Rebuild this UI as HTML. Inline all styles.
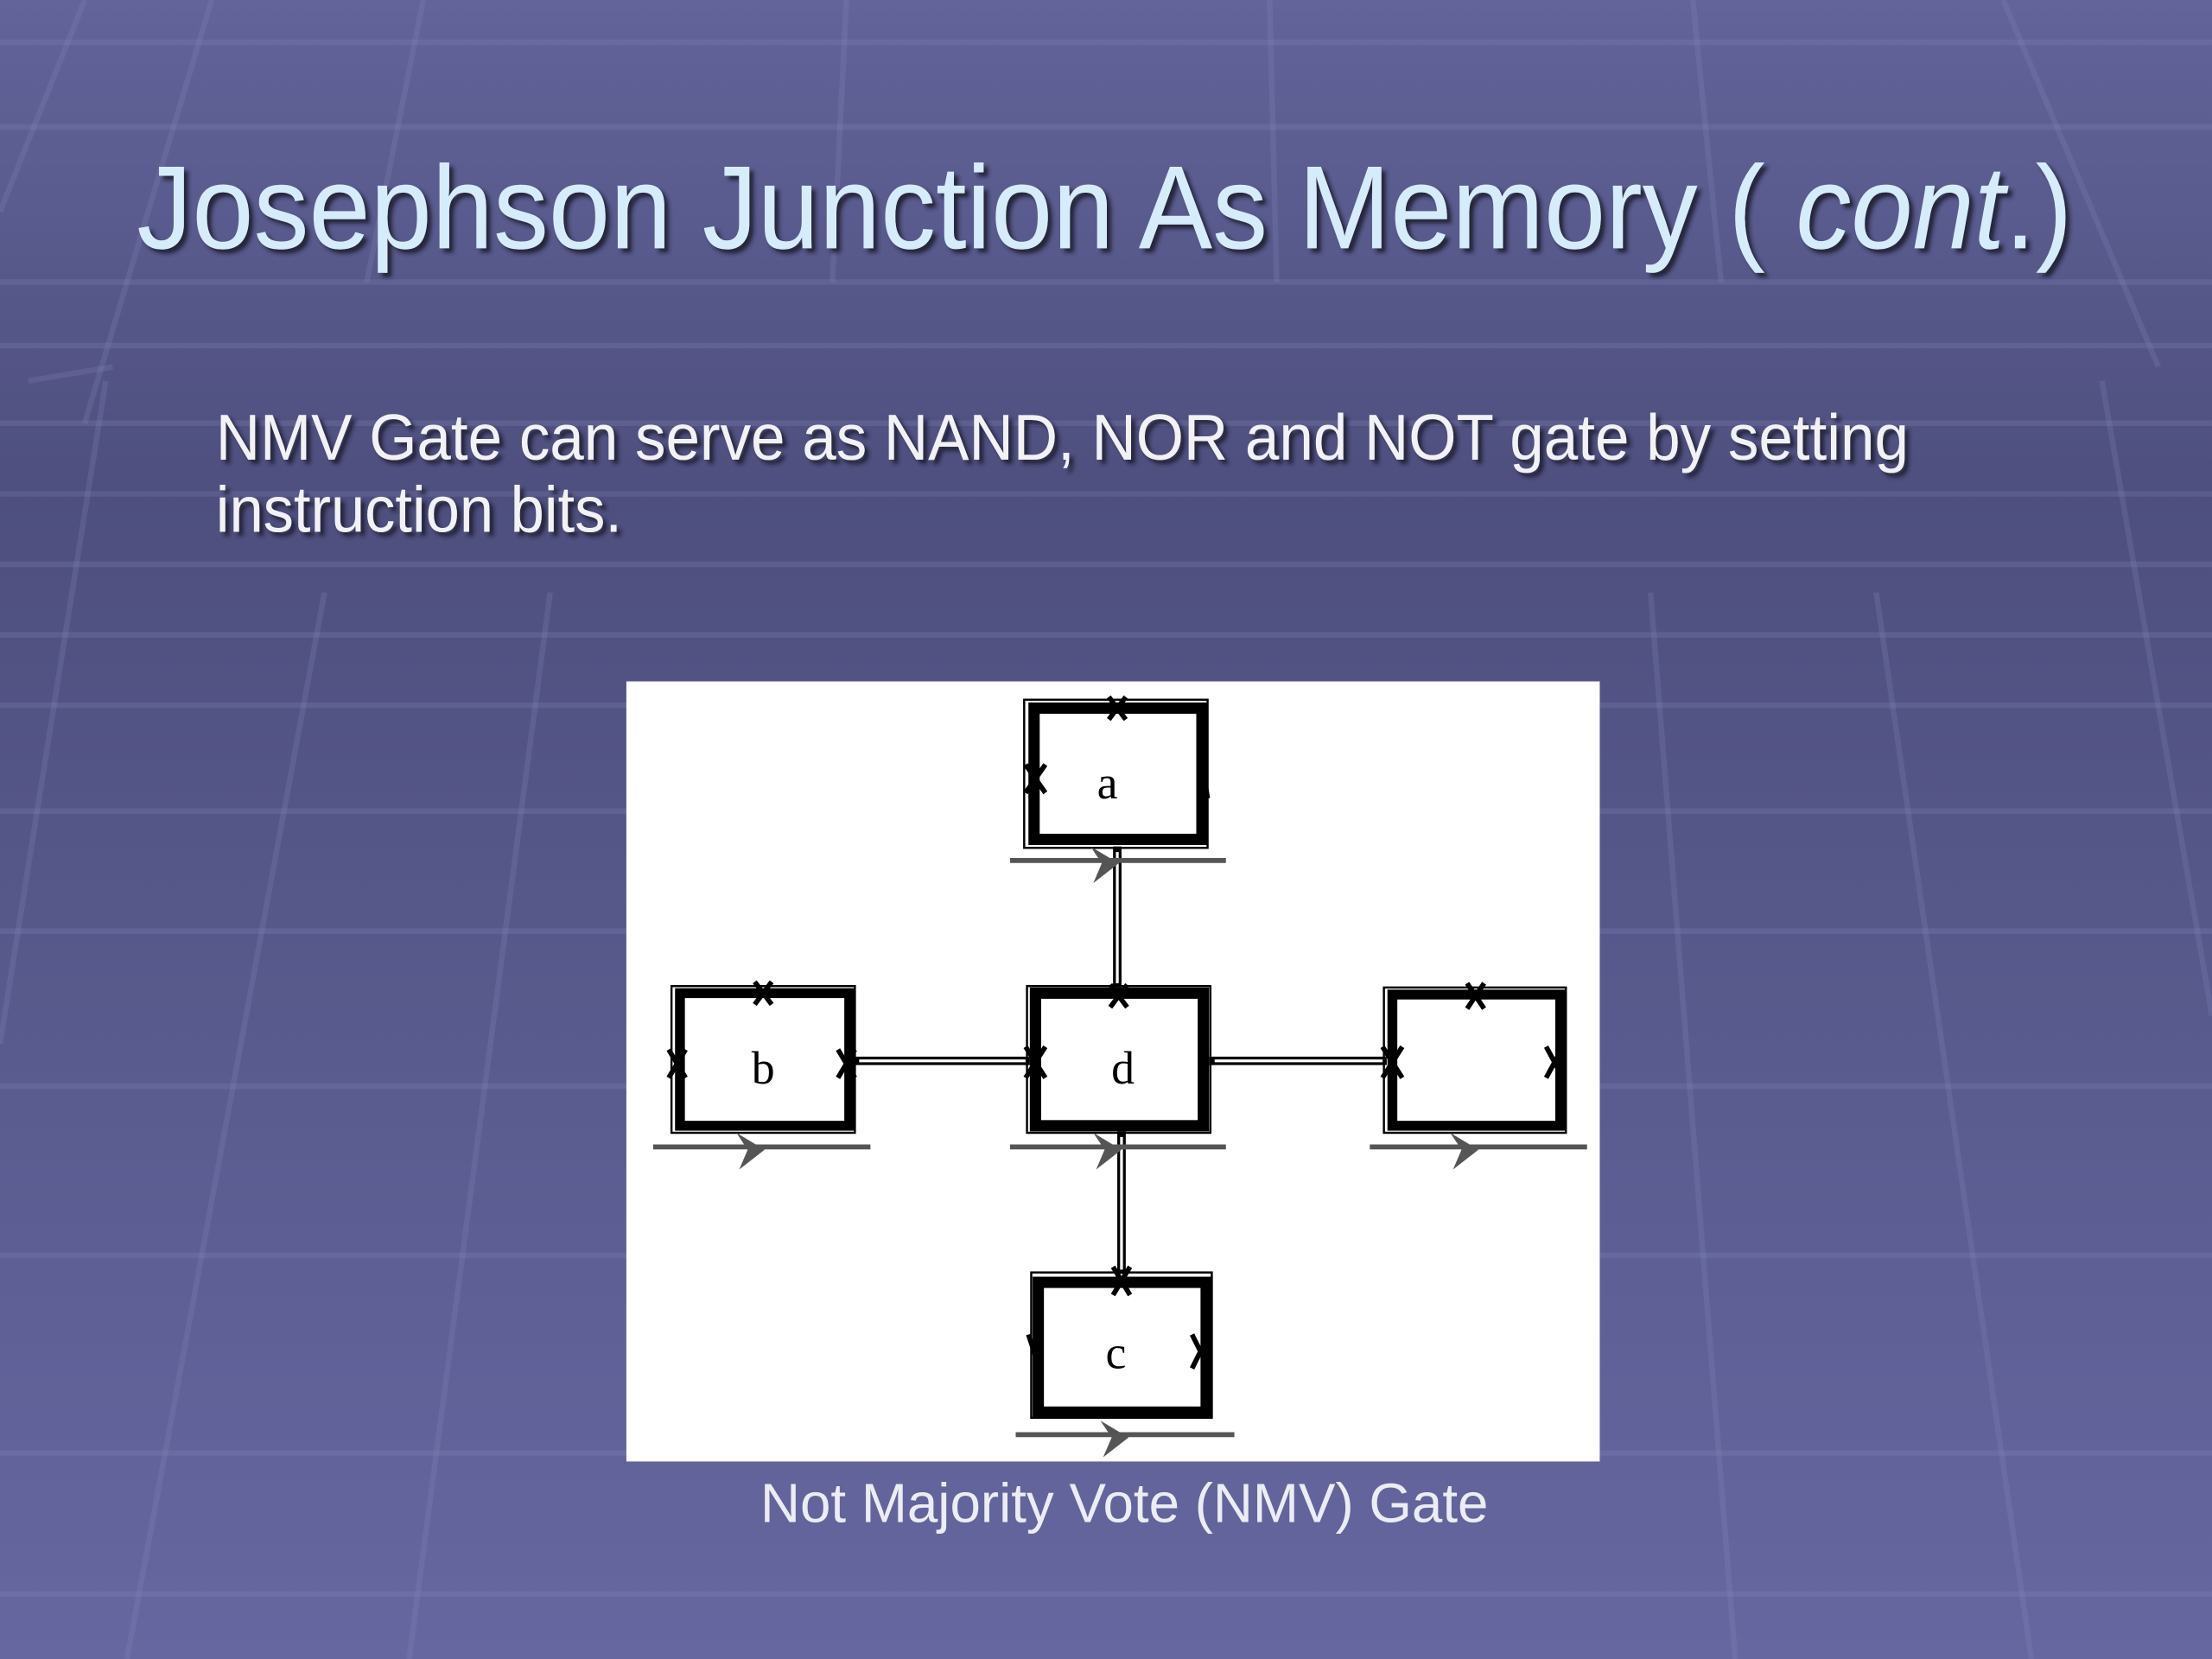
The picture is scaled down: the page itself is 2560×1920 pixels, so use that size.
<!DOCTYPE html>
<html><head><meta charset="utf-8"><style>
html,body{margin:0;padding:0;width:2560px;height:1920px;overflow:hidden}
svg{display:block}
</style></head><body>
<svg width="2560" height="1920" viewBox="0 0 1568 1176" xmlns="http://www.w3.org/2000/svg">
<defs>
<linearGradient id="bg" x1="0" y1="0" x2="0" y2="1">
<stop offset="0" stop-color="#62649a"/>
<stop offset="0.3" stop-color="#4e4f7e"/>
<stop offset="0.55" stop-color="#56588a"/>
<stop offset="1" stop-color="#6667a0"/>
</linearGradient>
<filter id="sh" x="-5%" y="-20%" width="110%" height="140%"><feDropShadow dx="3" dy="3" stdDeviation="1.5" flood-color="#1a1a30" flood-opacity="0.9"/></filter>
</defs>
<rect width="1568" height="1176" fill="url(#bg)"/>
<g stroke="#8a8cc0" stroke-opacity="0.22" stroke-width="4" fill="none">
<line x1="0" y1="30" x2="1568" y2="30"/>
<line x1="0" y1="90" x2="1568" y2="90"/>
<line x1="0" y1="200" x2="1568" y2="200"/>
<line x1="0" y1="245" x2="1568" y2="245"/>
<line x1="0" y1="300" x2="1568" y2="300"/>
<line x1="0" y1="350" x2="1568" y2="350"/>
<line x1="0" y1="400" x2="1568" y2="400"/>
<line x1="0" y1="450" x2="1568" y2="450"/>
<line x1="0" y1="500" x2="1568" y2="500"/>
<line x1="0" y1="575" x2="1568" y2="575"/>
<line x1="0" y1="660" x2="1568" y2="660"/>
<line x1="0" y1="770" x2="1568" y2="770"/>
<line x1="0" y1="890" x2="1568" y2="890"/>
<line x1="0" y1="1030" x2="1568" y2="1030"/>
<line x1="0" y1="1130" x2="1568" y2="1130"/>
<line x1="60" y1="0" x2="0" y2="150"/>
<line x1="150" y1="0" x2="60" y2="300"/>
<line x1="20" y1="270" x2="80" y2="260"/>
<line x1="75" y1="270" x2="0" y2="740"/>
<line x1="230" y1="420" x2="90" y2="1176"/>
<line x1="390" y1="420" x2="290" y2="1176"/>
<line x1="1170" y1="420" x2="1230" y2="1176"/>
<line x1="1330" y1="420" x2="1440" y2="1176"/>
<line x1="1490" y1="270" x2="1568" y2="720"/>
<line x1="1420" y1="0" x2="1530" y2="260"/>
<line x1="300" y1="0" x2="260" y2="200"/>
<line x1="600" y1="0" x2="590" y2="200"/>
<line x1="900" y1="0" x2="905" y2="200"/>
<line x1="1200" y1="0" x2="1220" y2="200"/>
</g>
<text x="97" y="176" font-family="Liberation Sans, sans-serif" font-size="84" fill="#d6ecfb" filter="url(#sh)" textLength="1372" lengthAdjust="spacingAndGlyphs">Josephson Junction As Memory ( <tspan font-style="italic">cont</tspan>.)</text>
<text x="153" y="326" font-family="Liberation Sans, sans-serif" font-size="46" fill="#f2f2f6" filter="url(#sh)" textLength="1200" lengthAdjust="spacingAndGlyphs">NMV Gate can serve as NAND, NOR and NOT gate by setting</text>
<text x="153" y="377" font-family="Liberation Sans, sans-serif" font-size="46" fill="#f2f2f6" filter="url(#sh)" textLength="288" lengthAdjust="spacingAndGlyphs">instruction bits.</text>

<rect x="444" y="483" width="690" height="553" fill="#ffffff"/>
<g fill="none">
<!-- connectors double lines -->
<g stroke="#000" stroke-width="6">
<line x1="792" y1="600" x2="792" y2="700"/>
<line x1="795" y1="802" x2="795" y2="903"/>
<line x1="605" y1="752" x2="730" y2="752"/>
<line x1="857" y1="752" x2="983" y2="752"/>
</g>
<g stroke="#fff" stroke-width="2">
<line x1="792" y1="604" x2="792" y2="697"/>
<line x1="795" y1="806" x2="795" y2="900"/>
<line x1="609" y1="752" x2="727" y2="752"/>
<line x1="861" y1="752" x2="980" y2="752"/>
</g>
<!-- boxes -->
<g stroke="#000">
<rect x="726" y="496" width="130" height="105" stroke-width="1.5"/>
<rect x="733" y="502" width="119" height="93" stroke-width="8"/>
<rect x="476" y="699" width="130" height="104" stroke-width="1.5"/>
<rect x="482" y="704" width="120" height="94" stroke-width="7"/>
<rect x="728" y="699" width="130" height="104" stroke-width="1.5"/>
<rect x="734" y="704" width="119" height="94" stroke-width="8"/>
<rect x="981" y="700" width="129" height="103" stroke-width="1.5"/>
<rect x="987" y="705" width="119" height="93" stroke-width="7"/>
<rect x="731" y="902" width="128" height="103" stroke-width="1.5"/>
<rect x="736" y="909" width="119" height="92" stroke-width="8"/>
</g>
<!-- junction X marks -->
<g stroke="#000" stroke-width="3.5">
<path d="M786 494 L798 510 M798 494 L786 510"/>
<path d="M727 542 L741 562 M741 542 L727 562"/>
<path d="M535 696 L547 712 M547 696 L535 712"/>
<path d="M474 744 L486 764 M486 744 L474 764"/>
<path d="M594 744 L606 764 M606 744 L594 764"/>
<path d="M787 698 L799 714 M799 698 L787 714"/>
<path d="M727 742 L741 764 M741 742 L727 764"/>
<path d="M1040 697 L1052 715 M1052 697 L1040 715"/>
<path d="M980 742 L994 764 M994 742 L980 764"/>
<path d="M1096 742 L1108 764 M1108 742 L1096 764"/>
<path d="M789 898 L801 918 M801 898 L789 918"/>
<path d="M845 946 L857 970 M857 946 L845 970"/>
<path d="M729 946 L737 970"/>
<path d="M852 540 L856 566"/>
</g>
<!-- bias lines -->
<g stroke="#555" stroke-width="3.5">
<line x1="716" y1="610" x2="869" y2="610"/>
<line x1="463" y1="813" x2="617" y2="813"/>
<line x1="716" y1="813" x2="869" y2="813"/>
<line x1="971" y1="813" x2="1125" y2="813"/>
<line x1="720" y1="1017" x2="875" y2="1017"/>
</g>
</g>
<g fill="#555">
<path d="M773 600 L793 612 L775 626 L781 612 Z"/>
<path d="M522 803 L542 815 L524 829 L530 815 Z"/>
<path d="M775 803 L795 815 L777 829 L783 815 Z"/>
<path d="M1028 803 L1048 815 L1030 829 L1036 815 Z"/>
<path d="M780 1007 L800 1019 L782 1033 L788 1019 Z"/>
</g>
<g font-family="Liberation Serif, serif" font-size="33" fill="#000" text-anchor="middle">
<text x="785" y="566">a</text>
<text x="541" y="768">b</text>
<text x="796" y="768">d</text>
<text x="791" y="970">c</text>
</g>
<text x="797" y="1079" text-anchor="middle" font-family="Liberation Sans, sans-serif" font-size="39" fill="#ececf4" textLength="516" lengthAdjust="spacingAndGlyphs">Not Majority Vote (NMV) Gate</text>
</svg>
</body></html>
